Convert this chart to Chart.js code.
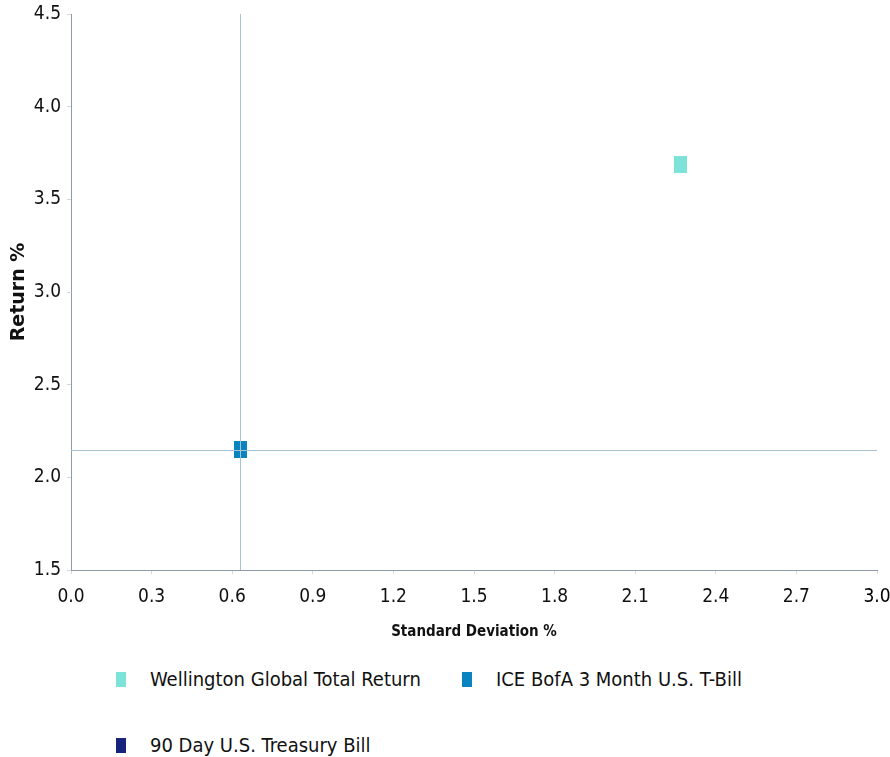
<!DOCTYPE html>
<html>
<head>
<meta charset="utf-8">
<script src="https://cdn.jsdelivr.net/npm/chart.js@4.4.1/dist/chart.umd.min.js"></script>
<style>
    body { margin: 0; background: #fff; }
    #wrap { position: relative; width: 890px; height: 757px; }
    #chartBox { position: absolute; left: 0; top: 0; width: 890px; height: 650px; }
    .legend-item { position: absolute; font-family: 'DejaVu Sans Condensed', sans-serif; font-stretch: condensed; font-size: 20px; color: #111; line-height: 26px; white-space: nowrap; }
    .legend-item i { display: inline-block; width: 10px; height: 15px; margin-right: 24px; vertical-align: -1px; }
</style>
</head>
<body>
<div id="wrap">
    <div id="chartBox"><canvas id="riskChart"></canvas></div>
    <div id="legend"></div>
</div>
<script>
// data
const seriesNames = ['Wellington Global Total Return', 'ICE BofA 3 Month U.S. T-Bill', '90 Day U.S. Treasury Bill'];
const stdDev = [2.27, 0.63, 0.63];
const returns = [3.69, 2.15, 2.15];
const seriesColors = ['#7de3d8', '#0a84c1', '#17237d'];
const xTicks = [0.0, 0.3, 0.6, 0.9, 1.2, 1.5, 1.8, 2.1, 2.4, 2.7, 3.0];
const yTicks = [1.5, 2.0, 2.5, 3.0, 3.5, 4.0, 4.5];
// crosshair goes through the T-bill point
const refIndex = 1;

const narrow = "'DejaVu Sans Condensed', sans-serif";
const tickFont = { family: narrow, size: 19 };

function makeMarker(color) {
    const c = document.createElement('canvas');
    c.width = 13;
    c.height = 17;
    const ctx = c.getContext('2d');
    ctx.fillStyle = color;
    ctx.fillRect(0, 0, 13, 17);
    return c;
}

const crosshair = {
    id: 'crosshair',
    afterDatasetsDraw(chart) {
        const { ctx, chartArea, scales } = chart;
        const px = scales.x.getPixelForValue(stdDev[refIndex]);
        const py = scales.y.getPixelForValue(returns[refIndex]);
        ctx.save();
        ctx.strokeStyle = '#a8c3d3';
        ctx.lineWidth = 1;
        ctx.beginPath();
        ctx.moveTo(Math.round(px) + 0.5, chartArea.top);
        ctx.lineTo(Math.round(px) + 0.5, chartArea.bottom);
        ctx.moveTo(chartArea.left, Math.round(py) + 0.5);
        ctx.lineTo(chartArea.right, Math.round(py) + 0.5);
        ctx.stroke();
        ctx.restore();
    }
};

const datasets = seriesNames.map((name, i) => ({
    label: name,
    data: [{ x: stdDev[i], y: returns[i] }],
    backgroundColor: seriesColors[i],
    pointStyle: makeMarker(seriesColors[i]),
    pointRadius: 8,
    pointHoverRadius: 8
}));

new Chart(document.getElementById('riskChart'), {
    type: 'scatter',
    data: { datasets: datasets },
    plugins: [crosshair],
    options: {
        responsive: true,
        maintainAspectRatio: false,
        animation: false,
        layout: { padding: 0 },
        plugins: {
            legend: { display: false },
            tooltip: { enabled: false }
        },
        scales: {
            x: {
                type: 'linear',
                min: xTicks[0],
                max: xTicks[xTicks.length - 1],
                afterBuildTicks: (s) => { s.ticks = xTicks.map(v => ({ value: v })); },
                afterFit: (s) => { s.height = 80; s.paddingRight = 13; },
                border: { display: true, color: '#8e9ba6', width: 1 },
                grid: { drawOnChartArea: false, drawTicks: true, tickLength: 4, color: '#d3d8dc' },
                ticks: {
                    padding: 12,
                    color: (c) => (c.tick && c.tick.value === 3 ? '#000' : '#111'),
                    maxRotation: 0,
                    font: tickFont,
                    callback: (v) => Number(v).toFixed(1)
                },
                title: {
                    display: true,
                    text: 'Standard Deviation %',
                    color: '#111',
                    font: { family: narrow, size: 15, weight: 'bold' },
                    padding: { top: 0, bottom: 9 }
                }
            },
            y: {
                type: 'linear',
                min: yTicks[0],
                max: yTicks[yTicks.length - 1],
                afterBuildTicks: (s) => { s.ticks = yTicks.map(v => ({ value: v })); },
                afterFit: (s) => { s.width = 71; s.paddingTop = 14; },
                border: { display: true, color: '#8e9ba6', width: 1 },
                grid: { drawOnChartArea: false, drawTicks: true, tickLength: 4, color: '#d3d8dc' },
                ticks: {
                    padding: 6,
                    color: '#111',
                    font: tickFont,
                    callback: (v) => Number(v).toFixed(1)
                },
                title: {
                    display: true,
                    text: 'Return %',
                    color: '#111',
                    font: { family: "'DejaVu Sans', sans-serif", size: 19, weight: 'bold' },
                    padding: { top: 8, bottom: 0 }
                }
            }
        }
    }
});

// html legend, laid out like the original
const legendPos = [[116, 666], [462, 666], [116, 732]];
const legend = document.getElementById('legend');
seriesNames.forEach((name, i) => {
    const item = document.createElement('div');
    item.className = 'legend-item';
    item.style.left = legendPos[i][0] + 'px';
    item.style.top = legendPos[i][1] + 'px';
    item.innerHTML = `<i style="background:${seriesColors[i]}"></i>${name}`;
    legend.appendChild(item);
});
</script>
</body>
</html>
